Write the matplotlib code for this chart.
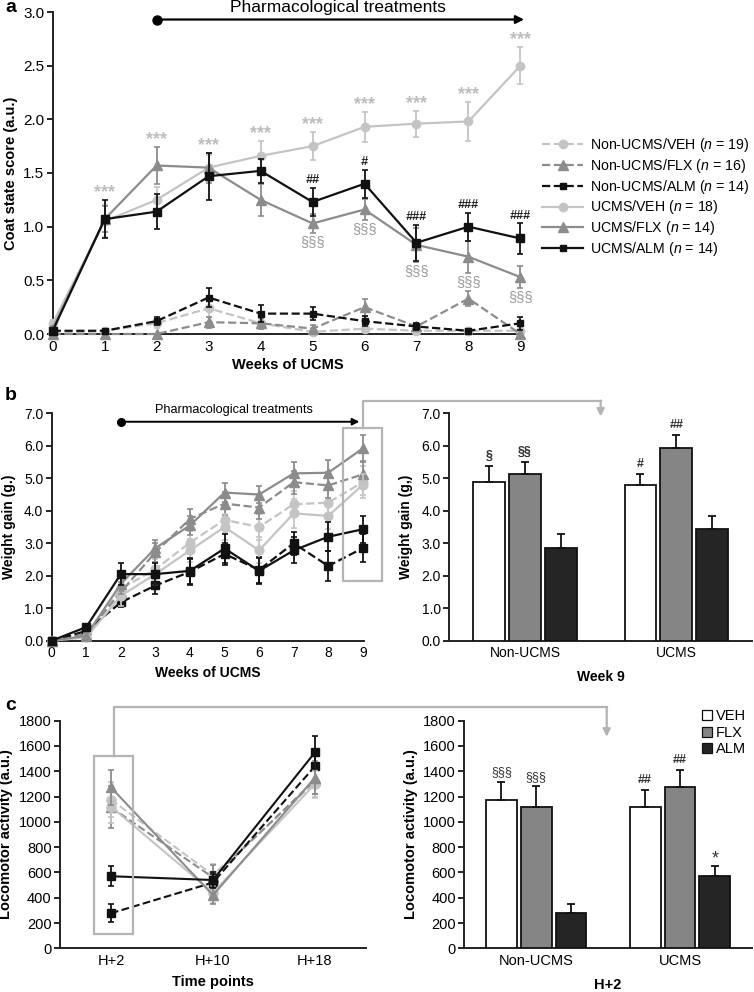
import numpy as np
import matplotlib
matplotlib.use("Agg")
import matplotlib.pyplot as plt
from matplotlib.lines import Line2D
from matplotlib.patches import Rectangle, FancyArrowPatch
from matplotlib.ticker import FormatStrFormatter

plt.rcParams['font.family'] = ['Liberation Sans', 'DejaVu Sans']
plt.rcParams['mathtext.fontset'] = 'custom'
plt.rcParams['mathtext.it'] = 'Liberation Sans:italic'
plt.rcParams['mathtext.rm'] = 'Liberation Sans'

# ---------------- data ----------------
groups = ['Non-UCMS/VEH', 'Non-UCMS/FLX', 'Non-UCMS/ALM', 'UCMS/VEH', 'UCMS/FLX', 'UCMS/ALM']
group_n = [19, 16, 14, 18, 14, 14]

weeks = [0, 1, 2, 3, 4, 5, 6, 7, 8, 9]
# Panel a: coat state score
a_nu_veh = [0.0, 0.03, 0.10, 0.24, 0.10, 0.02, 0.05, 0.03, 0.03, 0.03]
a_nu_flx = [0.0, 0.0, 0.0, 0.11, 0.10, 0.05, 0.25, 0.07, 0.33, 0.0]
a_nu_alm = [0.03, 0.03, 0.12, 0.34, 0.19, 0.19, 0.12, 0.07, 0.03, 0.10]
a_u_veh = [0.10, 1.05, 1.25, 1.55, 1.66, 1.75, 1.93, 1.96, 1.98, 2.50]
a_u_flx = [0.05, 1.07, 1.57, 1.55, 1.25, 1.03, 1.16, 0.83, 0.72, 0.53]
a_u_alm = [0.03, 1.07, 1.14, 1.47, 1.52, 1.23, 1.40, 0.85, 1.00, 0.89]
a_nu_veh_err = [0.0, 0.02, 0.04, 0.08, 0.05, 0.02, 0.03, 0.02, 0.02, 0.02]
a_nu_flx_err = [0.0, 0.0, 0.0, 0.05, 0.05, 0.03, 0.08, 0.03, 0.07, 0.0]
a_nu_alm_err = [0.02, 0.02, 0.04, 0.09, 0.08, 0.06, 0.05, 0.03, 0.02, 0.06]
a_u_veh_err = [0.03, 0.15, 0.12, 0.12, 0.14, 0.13, 0.14, 0.12, 0.18, 0.17]
a_u_flx_err = [0.02, 0.12, 0.17, 0.14, 0.15, 0.09, 0.10, 0.16, 0.15, 0.10]
a_u_alm_err = [0.02, 0.18, 0.16, 0.22, 0.11, 0.13, 0.13, 0.17, 0.13, 0.14]
a_star_weeks = [1, 2, 3, 4, 5, 6, 7, 8, 9]
a_hash_weeks = [5, 6, 7, 8, 9]
a_hash_labels = ['##', '#', '###', '###', '###']
a_sect_weeks = [5, 6, 7, 8, 9]

# Panel b: weight gain
b_nu_veh = [0, 0.20, 1.60, 2.20, 3.02, 3.72, 3.50, 4.20, 4.25, 4.88]
b_nu_flx = [0, 0.20, 1.50, 2.72, 3.75, 4.22, 4.10, 4.88, 4.78, 5.12]
b_nu_alm = [0, 0.30, 1.18, 1.70, 2.12, 2.67, 2.18, 3.00, 2.30, 2.85]
b_u_veh = [0, 0.10, 1.38, 2.05, 2.78, 3.50, 2.78, 3.92, 3.84, 4.80]
b_u_flx = [0, 0.15, 1.75, 2.85, 3.55, 4.56, 4.50, 5.15, 5.17, 5.92]
b_u_alm = [0, 0.42, 2.05, 2.05, 2.15, 2.84, 2.15, 2.78, 3.20, 3.43]
b_nu_veh_err = [0, 0.10, 0.30, 0.30, 0.35, 0.40, 0.40, 0.40, 0.45, 0.50]
b_nu_flx_err = [0, 0.10, 0.30, 0.30, 0.30, 0.35, 0.35, 0.35, 0.40, 0.38]
b_nu_alm_err = [0, 0.10, 0.15, 0.25, 0.40, 0.35, 0.40, 0.35, 0.45, 0.43]
b_u_veh_err = [0, 0.10, 0.30, 0.35, 0.35, 0.40, 0.40, 0.45, 0.40, 0.33]
b_u_flx_err = [0, 0.10, 0.30, 0.25, 0.30, 0.28, 0.25, 0.35, 0.40, 0.40]
b_u_alm_err = [0, 0.10, 0.35, 0.35, 0.40, 0.45, 0.40, 0.40, 0.45, 0.42]
b_bar_labels = [['§', '§§', ''], ['#', '##', '']]

# Panel c: locomotor activity
time_points = ['H+2', 'H+10', 'H+18']
c_nu_veh = [1175, 580, 1310]
c_nu_flx = [1115, 560, 1330]
c_nu_alm = [277, 520, 1440]
c_u_veh = [1120, 440, 1300]
c_u_flx = [1272, 420, 1350]
c_u_alm = [570, 540, 1550]
c_nu_veh_err = [140, 90, 110]
c_nu_flx_err = [165, 100, 110]
c_nu_alm_err = [70, 70, 120]
c_u_veh_err = [130, 80, 110]
c_u_flx_err = [140, 70, 130]
c_u_alm_err = [80, 60, 130]
c_bar_labels = [['§§§', '§§§', ''], ['##', '##', '*']]

conditions = ['Non-UCMS', 'UCMS']
treatments = ['VEH', 'FLX', 'ALM']

# ---------------- styles ----------------
LIGHT = '#c4c4c4'
MID = '#8c8c8c'
DARK = '#111111'
BOX = '#b4b4b4'
series_color = [LIGHT, MID, DARK, LIGHT, MID, DARK]
series_ls = ['--', '--', '--', '-', '-', '-']
series_marker = ['o', '^', 's', 'o', '^', 's']
bar_colors = ['white', '#858585', '#252525']

fig = plt.figure(figsize=(7.54, 9.92), dpi=100)
W, H = 754, 992

def rect(l, r, t, b):
    return [l / W, 1 - b / H, (r - l) / W, (b - t) / H]

def style_axes(ax, xt_len=0, lsize=10):
    for s in ['top', 'right']:
        ax.spines[s].set_visible(False)
    for s in ['left', 'bottom']:
        ax.spines[s].set_linewidth(1.4)
        ax.spines[s].set_color('#222222')
    ax.tick_params(axis='y', direction='out', length=4, width=1.2, labelsize=lsize, pad=2)
    ax.tick_params(axis='x', length=xt_len, labelsize=lsize, pad=4)

def line_panel(ax, xs, series, errs, ms_scale=1.0, lw=1.6):
    for i in range(6):
        ms = {'o': 6, '^': 6.5, 's': 5.5}[series_marker[i]] * ms_scale
        if i == 2:
            ms *= 0.9
        ax.errorbar(xs, series[i], yerr=errs[i], color=series_color[i], ls=series_ls[i],
                    marker=series_marker[i], ms=ms, lw=lw, elinewidth=1.3, capsize=2.5,
                    capthick=1.2, clip_on=False, zorder=3 + (i % 3) + (3 if i >= 3 else 0))

# ================= Panel a =================
axa = fig.add_axes(rect(52.7, 523, 12, 334))
style_axes(axa, lsize=11)
a_series = [a_nu_veh, a_nu_flx, a_nu_alm, a_u_veh, a_u_flx, a_u_alm]
a_errs = [a_nu_veh_err, a_nu_flx_err, a_nu_alm_err, a_u_veh_err, a_u_flx_err, a_u_alm_err]
line_panel(axa, weeks, a_series, a_errs)
axa.set_xlim(0, 9.05)
axa.set_ylim(0, 3.0)
axa.set_xticks(weeks)
axa.set_yticks(np.arange(0, 3.01, 0.5))
axa.yaxis.set_major_formatter(FormatStrFormatter('%.1f'))
axa.set_xlabel('Weeks of UCMS', fontweight='bold', fontsize=10.5, labelpad=3)
axa.set_ylabel('Coat state score (a.u.)', fontweight='bold', fontsize=10.5, labelpad=4)

u_top = np.max([np.array(a_u_veh) + a_u_veh_err, np.array(a_u_flx) + a_u_flx_err,
                np.array(a_u_alm) + a_u_alm_err], axis=0)
for w in a_star_weeks:
    axa.text(w, u_top[w] - 0.01, '***', ha='center', va='bottom', color='#bdbdbd',
             fontsize=13, fontweight='bold')
for w, lab in zip(a_hash_weeks, a_hash_labels):
    axa.text(w, a_u_alm[w] + a_u_alm_err[w] + 0.015, lab, ha='center', va='bottom',
             color='#222222', fontsize=9, fontweight='bold', style='italic')
for w in a_sect_weeks:
    axa.text(w, a_u_flx[w] - a_u_flx_err[w] - 0.02, '§§§', ha='center', va='top',
             color='#9a9a9a', fontsize=10.5)

# treatment arrow
axa.annotate('', xy=(9.07, 2.93), xytext=(2, 2.93), xycoords='data',
             arrowprops=dict(arrowstyle='-|>', color='black', lw=1.6, mutation_scale=12,
                             shrinkA=0, shrinkB=0), annotation_clip=False)
axa.plot([2], [2.93], 'o', color='black', ms=6.5, clip_on=False)
axa.text(5.48, 3.04, 'Pharmacological treatments', ha='center', va='center', fontsize=12.5)

legend_handles = []
for i in range(6):
    ms = {'o': 6, '^': 6.5, 's': 5}[series_marker[i]]
    legend_handles.append(Line2D([0], [0], color=series_color[i], ls=series_ls[i],
                                 marker=series_marker[i], ms=ms, lw=1.6))
labels = [f'{g} ($n$ = {n})' for g, n in zip(groups, group_n)]
fig.legend(legend_handles, labels, loc='upper left', bbox_to_anchor=(542 / W, 1 - 136 / H),
           frameon=False, fontsize=10.2, handlelength=2.9, handletextpad=0.5, labelspacing=0.2,
           borderaxespad=0, borderpad=0)

fig.text(5 / W, 1 - 8 / H, 'a', fontsize=14, fontweight='bold', va='center', ha='left')

# ================= Panel b =================
axb1 = fig.add_axes(rect(51.7, 363.5, 413.3, 640.7))
style_axes(axb1)
b_series = [b_nu_veh, b_nu_flx, b_nu_alm, b_u_veh, b_u_flx, b_u_alm]
b_errs = [b_nu_veh_err, b_nu_flx_err, b_nu_alm_err, b_u_veh_err, b_u_flx_err, b_u_alm_err]
line_panel(axb1, weeks, b_series, b_errs, ms_scale=1.05, lw=1.6)
axb1.set_xlim(0, 9.02)
axb1.set_ylim(0, 7.0)
axb1.set_xticks(weeks)
axb1.set_yticks(np.arange(0, 7.01, 1.0))
axb1.yaxis.set_major_formatter(FormatStrFormatter('%.1f'))
axb1.set_xlabel('Weeks of UCMS', fontweight='bold', fontsize=10, labelpad=4)
axb1.set_ylabel('Weight gain (g.)', fontweight='bold', fontsize=10, labelpad=6)
axb1.annotate('', xy=(8.9, 6.74), xytext=(2, 6.74),
              arrowprops=dict(arrowstyle='-|>', color='black', lw=1.4, mutation_scale=10,
                              shrinkA=0, shrinkB=0), annotation_clip=False)
axb1.plot([2], [6.74], 'o', color='black', ms=5.5, clip_on=False)
axb1.text(5.27, 7.1, 'Pharmacological treatments', ha='center', va='center', fontsize=9.2)
axb1.add_patch(Rectangle((8.43, 1.84), 1.12, 4.72, fill=False, ec=BOX, lw=1.6, clip_on=False,
                         zorder=10))
fig.text(5 / W, 1 - 395 / H, 'b', fontsize=14, fontweight='bold', va='center', ha='left')

axb2 = fig.add_axes(rect(449.3, 752, 413.3, 640.7))
style_axes(axb2)
bw, bsp = 0.21, 0.237
xg = np.arange(len(conditions))
b_week9 = [[b_nu_veh[-1], b_nu_flx[-1], b_nu_alm[-1]], [b_u_veh[-1], b_u_flx[-1], b_u_alm[-1]]]
b_week9_err = [[b_nu_veh_err[-1], b_nu_flx_err[-1], b_nu_alm_err[-1]],
               [b_u_veh_err[-1], b_u_flx_err[-1], b_u_alm_err[-1]]]
for j in range(3):
    vals = [b_week9[g][j] for g in range(2)]
    errs = [b_week9_err[g][j] for g in range(2)]
    axb2.bar(xg + (j - 1) * bsp, vals, bw, color=bar_colors[j], edgecolor='#111111', lw=1.3,
             yerr=[[0, 0], errs], error_kw=dict(ecolor='#111111', elinewidth=1.3, capsize=3,
                                                 capthick=1.3), zorder=3)
    for g in range(2):
        lab = b_bar_labels[g][j]
        if lab:
            axb2.text(xg[g] + (j - 1) * bsp, vals[g] + errs[g] + 0.12, lab, ha='center',
                      va='bottom', fontsize=9, color='#333333', fontweight='bold')
axb2.set_xlim(-0.5, 1.5)
axb2.set_ylim(0, 7.0)
axb2.set_xticks(xg)
axb2.set_xticklabels(conditions)
axb2.set_yticks(np.arange(0, 7.01, 1.0))
axb2.yaxis.set_major_formatter(FormatStrFormatter('%.1f'))
axb2.set_xlabel('Week 9', fontweight='bold', fontsize=10, labelpad=7)
axb2.set_ylabel('Weight gain (g,)', fontweight='bold', fontsize=10, labelpad=6)

# ================= Panel c =================
axc1 = fig.add_axes(rect(60, 366, 720.7, 948.3))
style_axes(axc1, lsize=10.5)
c_series = [c_nu_veh, c_nu_flx, c_nu_alm, c_u_veh, c_u_flx, c_u_alm]
c_errs = [c_nu_veh_err, c_nu_flx_err, c_nu_alm_err, c_u_veh_err, c_u_flx_err, c_u_alm_err]
xc = np.arange(len(time_points))
line_panel(axc1, xc, c_series, c_errs, ms_scale=1.1, lw=1.5)
axc1.set_xlim(-0.5, 2.5)
axc1.set_ylim(0, 1800)
axc1.set_xticks(xc)
axc1.set_xticklabels(time_points)
axc1.set_yticks(np.arange(0, 1801, 200))
axc1.set_xlabel('Time points', fontweight='bold', fontsize=10.5, labelpad=5)
axc1.set_ylabel('Locomotor activity (a.u.)', fontweight='bold', fontsize=10.5, labelpad=4)
axc1.add_patch(Rectangle((-0.163, 111), 0.378, 1410, fill=False, ec=BOX, lw=1.6, clip_on=False,
                         zorder=10))
fig.text(5 / W, 1 - 705 / H, 'c', fontsize=14, fontweight='bold', va='center', ha='left')

axc2 = fig.add_axes(rect(464.3, 752, 720.7, 948.3))
style_axes(axc2, lsize=10.5)
bw2, bsp2 = 0.214, 0.242
c_h2 = [[c_nu_veh[0], c_nu_flx[0], c_nu_alm[0]], [c_u_veh[0], c_u_flx[0], c_u_alm[0]]]
c_h2_err = [[c_nu_veh_err[0], c_nu_flx_err[0], c_nu_alm_err[0]],
            [c_u_veh_err[0], c_u_flx_err[0], c_u_alm_err[0]]]
bar_handles = []
for j in range(3):
    vals = [c_h2[g][j] for g in range(2)]
    errs = [c_h2_err[g][j] for g in range(2)]
    axc2.bar(xg + (j - 1) * bsp2, vals, bw2, color=bar_colors[j], edgecolor='#111111', lw=1.3,
             yerr=[[0, 0], errs], error_kw=dict(ecolor='#111111', elinewidth=1.3, capsize=3,
                                                 capthick=1.3), zorder=3)
    bar_handles.append(Line2D([0], [0], ls='none', marker='s', ms=6.5, mfc=bar_colors[j],
                              mec='#111111', mew=0.9))
    for g in range(2):
        lab = c_bar_labels[g][j]
        if lab:
            fs = 13 if lab == '*' else 9
            off = -10 if lab == '*' else 30
            axc2.text(xg[g] + (j - 1) * bsp2, vals[g] + errs[g] + off, lab, ha='center',
                      va='bottom', fontsize=fs, color='#333333',
                      fontweight='bold' if '#' in lab else 'normal')
axc2.set_xlim(-0.5, 1.5)
axc2.set_ylim(0, 1800)
axc2.set_xticks(xg)
axc2.set_xticklabels(conditions)
axc2.set_yticks(np.arange(0, 1801, 200))
axc2.set_xlabel('H+2', fontweight='bold', fontsize=10.5, labelpad=7)
axc2.set_ylabel('Locomotor activity (a.u.)', fontweight='bold', fontsize=10.5, labelpad=4)
axc2.legend(bar_handles, treatments, loc='upper right', bbox_to_anchor=(1.0, 1.075),
            frameon=False, fontsize=10.5, handletextpad=0.2, labelspacing=0.15,
            borderaxespad=0, handlelength=0.8)

# ================= connectors =================
inv = fig.transFigure.inverted()

def to_fig(ax, x, y):
    return inv.transform(ax.transData.transform((x, y)))

def connector(ax_from, x0, y_box, y_up, ax_to, x1, y_end):
    p0 = to_fig(ax_from, x0, y_box)
    p1 = to_fig(ax_from, x0, y_up)
    p2 = to_fig(ax_to, x1, y_up)
    p3 = to_fig(ax_to, x1, y_end)
    fig.add_artist(Line2D([p0[0], p1[0], p2[0]], [p0[1], p1[1], p2[1]], color=BOX, lw=1.6,
                          transform=fig.transFigure))
    fig.add_artist(FancyArrowPatch(p2, p3, transform=fig.transFigure, arrowstyle='-|>',
                                   mutation_scale=11, color=BOX, lw=1.6, shrinkA=0, shrinkB=0))

connector(axb1, 9, 6.56, 7.39, axb2, 0.5, 6.9)
connector(axc1, 0.026, 1521, 1906, axc2, 0.49, 1673)

fig.savefig('out.png', dpi=100)
